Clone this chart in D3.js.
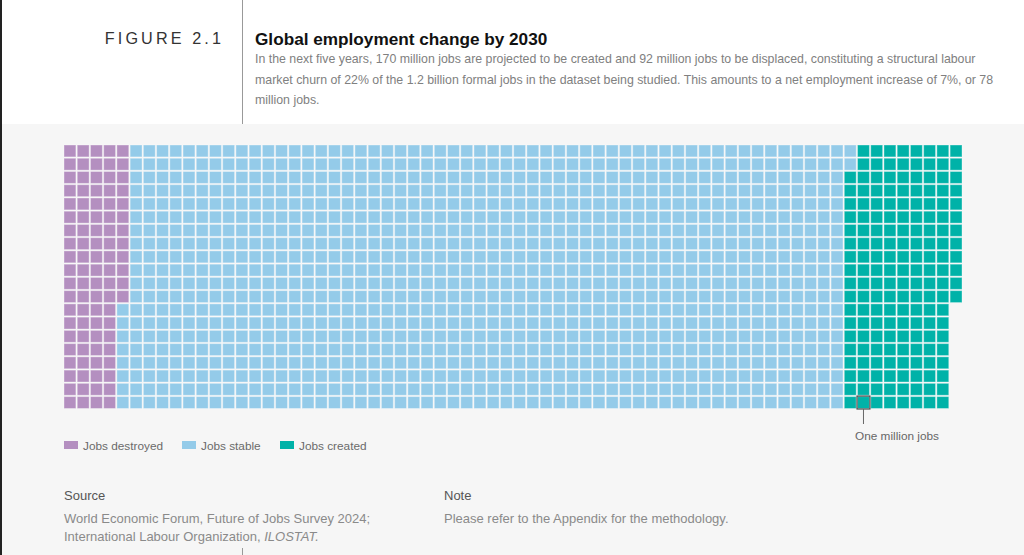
<!DOCTYPE html>
<html>
<head>
<meta charset="utf-8">
<script src="https://cdn.jsdelivr.net/npm/d3@7"></script>
<style>
  html, body { margin: 0; padding: 0; background: #fff; }
  svg { display: block; font-family: "Liberation Sans", Arial, Helvetica, sans-serif; }
</style>
</head>
<body>
<svg id="chart" width="1024" height="555"></svg>
<script>
// ---- Data (million jobs, one square = one million) ----
const categories = ["Jobs destroyed", "Jobs stable", "Jobs created"];
const values = [92, 1090, 170];
const colors = ["#b48fc0", "#94cbe9", "#00b2a8"];
const rowsPerColumn = 20;
const calloutIndex = 1219; // the square highlighted as "One million jobs"
const titleText = "Global employment change by 2030";
const subtitleLines = [
  "In the next five years, 170 million jobs are projected to be created and 92 million jobs to be displaced, constituting a structural labour",
  "market churn of 22% of the 1.2 billion formal jobs in the dataset being studied. This amounts to a net employment increase of 7%, or 78",
  "million jobs."
];
const sourceLines = ["World Economic Forum, Future of Jobs Survey 2024;", "International Labour Organization, "];
const noteText = "Please refer to the Appendix for the methodology.";

const svg = d3.select("#chart");

// backgrounds
svg.append("rect").attr("x", 0).attr("y", 0).attr("width", 1024).attr("height", 555).attr("fill", "#fff");
svg.append("rect").attr("x", 0).attr("y", 124).attr("width", 1024).attr("height", 431).attr("fill", "#f6f6f6");
svg.append("rect").attr("x", 0).attr("y", 0).attr("width", 2).attr("height", 555).attr("fill", "#222");
svg.append("line").attr("x1", 242.5).attr("x2", 242.5).attr("y1", 0).attr("y2", 124).attr("stroke", "#999").attr("stroke-width", 1);
svg.append("line").attr("x1", 242.5).attr("x2", 242.5).attr("y1", 548).attr("y2", 555).attr("stroke", "#999").attr("stroke-width", 1);

// header
svg.append("text").attr("x", 224).attr("y", 44).attr("text-anchor", "end")
  .attr("font-size", 16.2).attr("letter-spacing", "3.1px").attr("fill", "#333").text("FIGURE 2.1");
svg.append("text").attr("x", 255).attr("y", 45).attr("font-size", 17.2).attr("font-weight", "bold")
  .attr("fill", "#111").text(titleText);
svg.append("g").selectAll("text").data(subtitleLines).join("text")
  .attr("x", 255).attr("y", (d, i) => 63 + i * 20.5)
  .attr("font-size", 12.35).attr("fill", "#808080").text(d => d);

// waffle cells
const cells = [];
let idx = 0;
values.forEach((v, c) => {
  for (let k = 0; k < v; k++) {
    cells.push({ i: idx, cat: c, col: Math.floor(idx / rowsPerColumn), row: idx % rowsPerColumn });
    idx++;
  }
});
const nCols = Math.ceil(idx / rowsPerColumn);

const x = d3.scaleBand().domain(d3.range(nCols)).range([64, 962]).paddingInner(0.1);
const y = d3.scaleBand().domain(d3.range(rowsPerColumn)).range([145, 408.5]).paddingInner(0.1);

svg.append("g").selectAll("rect").data(cells).join("rect")
  .attr("x", d => x(d.col))
  .attr("y", d => y(d.row))
  .attr("width", x.bandwidth())
  .attr("height", y.bandwidth())
  .attr("fill", d => colors[d.cat])
  .attr("stroke", "rgba(255,255,255,0.35)")
  .attr("stroke-width", 1);

// callout
const cc = cells[calloutIndex];
const cx0 = x(cc.col), cy0 = y(cc.row);
svg.append("rect").attr("x", cx0 - 0.5).attr("y", cy0 - 0.5)
  .attr("width", x.bandwidth() + 1).attr("height", y.bandwidth() + 1)
  .attr("fill", "none").attr("stroke", "#4a4a4a").attr("stroke-width", 1.2);
svg.append("line").attr("x1", cx0 + x.bandwidth() / 2).attr("x2", cx0 + x.bandwidth() / 2)
  .attr("y1", cy0 + y.bandwidth() + 0.5).attr("y2", 424)
  .attr("stroke", "#666").attr("stroke-width", 1);
svg.append("text").attr("x", 855).attr("y", 440).attr("font-size", 11.8).attr("fill", "#666").text("One million jobs");

// legend
const legendX = [64, 182, 280];
const lg = svg.append("g").selectAll("g").data(categories).join("g")
  .attr("transform", (d, i) => `translate(${legendX[i]},441)`);
lg.append("rect").attr("width", 14).attr("height", 8).attr("y", 0).attr("fill", (d, i) => colors[i]);
lg.append("text").attr("x", 19).attr("y", 8.5).attr("font-size", 11.8).attr("fill", "#6a6a6a").text(d => d);

// source & note
const fs = 13;
svg.append("text").attr("x", 64).attr("y", 500).attr("font-size", fs).attr("fill", "#555").text("Source");
const st = svg.append("g");
st.append("text").attr("x", 64).attr("y", 523).attr("font-size", fs).attr("fill", "#8a8a8a").text(sourceLines[0]);
const t2 = st.append("text").attr("x", 64).attr("y", 541).attr("font-size", fs).attr("fill", "#8a8a8a");
t2.append("tspan").text(sourceLines[1]);
t2.append("tspan").attr("font-style", "italic").text("ILOSTAT.");
svg.append("text").attr("x", 444).attr("y", 500).attr("font-size", fs).attr("fill", "#555").text("Note");
svg.append("text").attr("x", 444).attr("y", 523).attr("font-size", fs).attr("fill", "#8a8a8a").text(noteText);
</script>
</body>
</html>
